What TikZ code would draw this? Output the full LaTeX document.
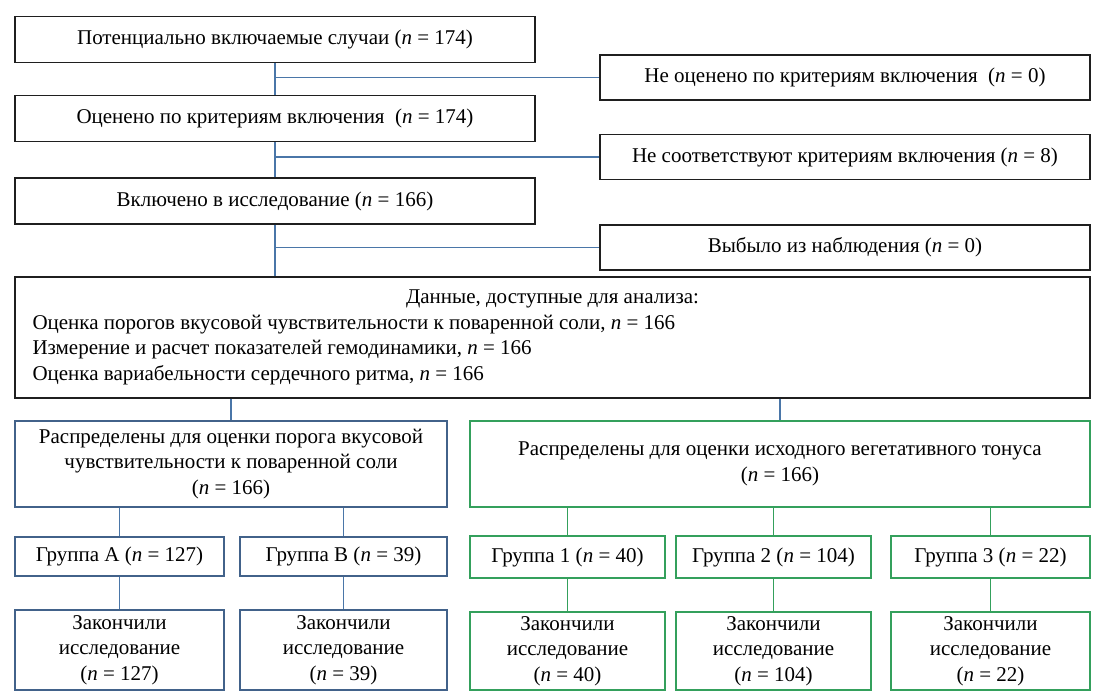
\documentclass[tikz,border=0pt]{standalone}
\usepackage{fontspec}
\setmainfont{Liberation Serif}
\usepackage{xcolor}
\usepackage{tikz}
\usetikzlibrary{positioning}
\definecolor{lineblue}{RGB}{74,118,168}
\definecolor{boxblue}{RGB}{66,98,138}
\definecolor{boxgreen}{RGB}{52,160,92}
\newcommand{\flowfont}{\rmfamily\fontsize{21}{25.5}\selectfont}
\newcommand{\nn}{\textit{n}}
\tikzset{
  fcbox/.style={
    rectangle, draw=black!88, line width=1.4pt, fill=white,
    align=center, font=\flowfont, inner sep=0pt
  },
  fcmain/.style={fcbox, minimum width=520pt, minimum height=46pt},
  fcside/.style={fcbox, minimum width=490pt, minimum height=45pt},
  fcblue/.style={fcbox, draw=boxblue, line width=1.1pt},
  fcgreen/.style={fcbox, draw=boxgreen, line width=1.1pt},
  fcline/.style={draw=lineblue, line width=1.2pt},
  fcgline/.style={draw=boxgreen, line width=1.2pt},
}

\begin{document}
\begin{tikzpicture}[x=1pt, y=-1pt]
  \useasboundingbox (0,0) rectangle (1100,696);
  % screening column
  \node (pot)  [fcmain] at (275,39.5)  {Потенциально включаемые случаи (\nn{} = 174)};
  \node (eval) [fcmain] at (275,118.5) {Оценено по критериям включения\ \ (\nn{} = 174)};
  \node (incl) [fcmain] at (275,201)   {Включено в исследование (\nn{} = 166)};
  \node (noev) [fcside] at (845,77.5)  {Не оценено по критериям включения\ \ (\nn{} = 0)};
  \node (nocr) [fcside] at (845,157)   {Не соответствуют критериям включения (\nn{} = 8)};
  \node (lost) [fcside] at (845,247.5) {Выбыло из наблюдения (\nn{} = 0)};
  \node (data) [fcbox, minimum width=1075pt, minimum height=121pt, text width=1040pt, align=flush left]
    at (552.5,337.5)
    {\makebox[\linewidth]{Данные, доступные для анализа:}\\
     Оценка порогов вкусовой чувствительности к поваренной соли, \nn{} = 166\\
     Измерение и расчет показателей гемодинамики, \nn{} = 166\\
     Оценка вариабельности сердечного ритма, \nn{} = 166};
  % allocation
  \node (salt) [fcblue, minimum width=432pt, minimum height=86pt] at (231,464)
    {Распределены для оценки порога вкусовой\\чувствительности к поваренной соли\\(\nn{} = 166)};
  \node (tone) [fcgreen, minimum width=620pt, minimum height=86pt] at (780,464)
    {Распределены для оценки исходного вегетативного тонуса\\(\nn{} = 166)};
  \node (grA) [fcblue, minimum width=209pt, minimum height=39pt] at (119.5,556.5) {Группа А (\nn{} = 127)};
  \node (grB) [fcblue, minimum width=207pt, minimum height=39pt] at (343.5,556.5) {Группа В (\nn{} = 39)};
  \node (finA) [fcblue, minimum width=209pt, minimum height=80pt] at (119.5,650) {Закончили\\исследование\\(\nn{} = 127)};
  \node (finB) [fcblue, minimum width=207pt, minimum height=80pt] at (343.5,650) {Закончили\\исследование\\(\nn{} = 39)};
  \node (gr1) [fcgreen, minimum width=195pt, minimum height=42pt] at (567.5,557) {Группа 1 (\nn{} = 40)};
  \node (gr2) [fcgreen, minimum width=195pt, minimum height=42pt] at (773.5,557) {Группа 2 (\nn{} = 104)};
  \node (gr3) [fcgreen, minimum width=199pt, minimum height=42pt] at (990.5,557) {Группа 3 (\nn{} = 22)};
  \node (fin1) [fcgreen, minimum width=195pt, minimum height=78pt] at (567.5,651) {Закончили\\исследование\\(\nn{} = 40)};
  \node (fin2) [fcgreen, minimum width=195pt, minimum height=78pt] at (773.5,651) {Закончили\\исследование\\(\nn{} = 104)};
  \node (fin3) [fcgreen, minimum width=199pt, minimum height=78pt] at (990.5,651) {Закончили\\исследование\\(\nn{} = 22)};
  % connectors
  \draw[fcline] (pot.south) -- (eval.north);
  \draw[fcline] (eval.south) -- (incl.north);
  \draw[fcline] (incl.south) -- (incl.south |- data.north);
  \draw[fcline] (pot.south |- noev.west) -- (noev.west);
  \draw[fcline] (eval.south |- nocr.west) -- (nocr.west);
  \draw[fcline] (incl.south |- lost.west) -- (lost.west);
  \draw[fcline] (salt.north |- data.south) -- (salt.north);
  \draw[fcline] (tone.north |- data.south) -- (tone.north);
  \draw[fcline] (grA.north |- salt.south) -- (grA.north);
  \draw[fcline] (grB.north |- salt.south) -- (grB.north);
  \draw[fcline] (grA.south) -- (finA.north);
  \draw[fcline] (grB.south) -- (finB.north);
  \draw[fcgline] (gr1.north |- tone.south) -- (gr1.north);
  \draw[fcgline] (gr2.north |- tone.south) -- (gr2.north);
  \draw[fcgline] (gr3.north |- tone.south) -- (gr3.north);
  \draw[fcgline] (gr1.south) -- (fin1.north);
  \draw[fcgline] (gr2.south) -- (fin2.north);
  \draw[fcgline] (gr3.south) -- (fin3.north);
\end{tikzpicture}
\end{document}
